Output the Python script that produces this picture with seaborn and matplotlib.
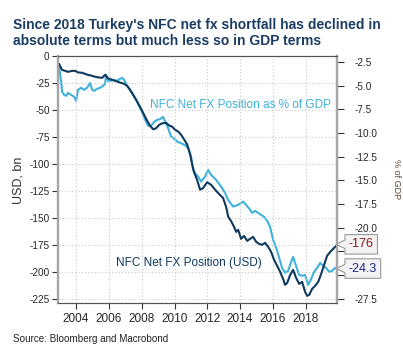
import matplotlib
matplotlib.use("Agg")
import matplotlib.pyplot as plt
from matplotlib.path import Path
import seaborn as sns
import pandas as pd

# NFC net FX position, USD bn (left axis)
usd_years = [2002.96, 2003.15, 2003.33, 2003.51, 2003.76, 2003.94, 2004.12, 2004.37, 2004.55,
             2004.73, 2004.98, 2005.16, 2005.34, 2005.59, 2005.77, 2005.95, 2006.20, 2006.38,
             2006.56, 2006.74, 2006.93, 2007.11, 2007.29, 2007.48, 2007.66, 2007.90, 2008.09,
             2008.27, 2008.51, 2008.70, 2008.88, 2009.06, 2009.24, 2009.49, 2009.67, 2009.85,
             2010.04, 2010.22, 2010.40, 2010.59, 2010.77, 2010.95, 2011.07, 2011.20, 2011.38,
             2011.56, 2011.74, 2011.99, 2012.23, 2012.48, 2012.72, 2012.96, 2013.15, 2013.27,
             2013.45, 2013.63, 2013.76, 2013.88, 2014.06, 2014.24, 2014.43, 2014.61, 2014.79,
             2014.98, 2015.16, 2015.34, 2015.52, 2015.71, 2015.89, 2016.07, 2016.26, 2016.44,
             2016.62, 2016.74, 2016.87, 2017.05, 2017.23, 2017.41, 2017.60, 2017.78, 2017.96,
             2018.09, 2018.21, 2018.39, 2018.57, 2018.76, 2018.94, 2019.12, 2019.30, 2019.49,
             2019.67, 2019.85]
usd_bn = [-7.4, -13.0, -13.9, -14.8, -13.9, -13.9, -15.3, -15.7, -16.7,
          -17.6, -18.5, -19.4, -19.9, -20.4, -17.5, -20.8, -22.2, -23.1,
          -24.1, -25.0, -25.9, -27.8, -31.5, -36.1, -40.7, -47.2, -52.8,
          -58.3, -64.8, -68.0, -67.0, -64.0, -62.5, -62.0, -64.5, -65.5,
          -68.5, -70.0, -73.0, -77.5, -82.0, -91.0, -100.0, -108.0, -115.0,
          -124.0, -122.5, -117.0, -119.4, -124.0, -128.0, -131.5, -140.0, -148.8,
          -153.0, -158.3, -163.0, -161.1, -169.4, -166.7, -171.3, -169.4, -167.6,
          -172.2, -174.1, -175.0, -173.1, -176.8, -181.5, -188.9, -194.4, -200.0,
          -206.5, -212.0, -210.2, -202.8, -198.1, -205.5, -211.1, -209.3, -218.5,
          -222.2, -221.3, -215.7, -213.0, -209.3, -201.9, -193.5, -185.2, -181.5,
          -178.7, -176.0]

# NFC net FX position, % of GDP (right axis)
gdp_years = [2002.96, 2003.09, 2003.15, 2003.27, 2003.39, 2003.51, 2003.70, 2003.88, 2004.00,
             2004.12, 2004.30, 2004.49, 2004.67, 2004.85, 2004.98, 2005.10, 2005.28, 2005.46,
             2005.65, 2005.77, 2005.83, 2005.95, 2006.13, 2006.32, 2006.50, 2006.68, 2006.80,
             2006.93, 2007.11, 2007.29, 2007.48, 2007.66, 2007.84, 2008.02, 2008.21, 2008.39,
             2008.57, 2008.76, 2008.94, 2009.12, 2009.30, 2009.43, 2009.61, 2009.79, 2009.98,
             2010.16, 2010.40, 2010.65, 2010.83, 2011.01, 2011.13, 2011.32, 2011.44, 2011.62,
             2011.87, 2012.05, 2012.23, 2012.54, 2012.84, 2013.09, 2013.27, 2013.57, 2013.88,
             2014.18, 2014.37, 2014.61, 2014.73,
             2014.91, 2015.10, 2015.28, 2015.46, 2015.65, 2015.83, 2016.01, 2016.20, 2016.38,
             2016.56, 2016.74, 2016.93, 2017.11, 2017.23, 2017.41, 2017.60, 2017.78, 2017.96,
             2018.15, 2018.33, 2018.51, 2018.70, 2018.88, 2019.06, 2019.24, 2019.43, 2019.61,
             2019.79, 2019.85]
gdp_pct = [-2.92, -4.61, -5.66, -5.98, -6.09, -5.77, -5.98, -6.19, -6.61,
           -5.45, -5.24, -5.45, -5.24, -4.72, -5.45, -5.56, -5.35, -5.24,
           -5.03, -4.82, -3.87, -4.50, -4.50, -4.40, -4.50, -4.29, -4.19,
           -4.40, -5.03, -5.45, -5.98, -6.51, -7.14, -7.77, -8.62, -9.25,
           -9.25, -8.83, -8.62, -8.55, -8.30, -8.80, -9.49, -10.38, -10.60,
           -10.91, -11.08, -11.30, -11.60, -12.50, -13.89, -14.40, -14.60, -15.13,
           -14.60, -13.89, -14.42, -14.95, -15.65, -16.35, -17.06, -17.76, -17.59,
           -17.24, -17.59, -18.11, -18.43,
           -18.22, -18.43, -18.64, -18.85, -19.27, -19.91, -21.28, -22.12, -23.18,
           -24.23, -24.76, -24.54, -23.60, -23.07, -24.02, -24.97, -25.07, -24.97,
           -26.02, -25.39, -24.65, -24.23, -23.70, -24.02, -24.23, -24.65, -24.54,
           -24.23, -24.30]

year_ticks = [2004, 2006, 2008, 2010, 2012, 2014, 2016, 2018]
usd_ticks = [0, -25, -50, -75, -100, -125, -150, -175, -200, -225]
gdp_ticks = [-2.5, -5.0, -7.5, -10.0, -12.5, -15.0, -17.5, -20.0, -22.5, -25.0, -27.5]
# these two labels sit behind the end-value boxes in the original
hidden_gdp_labels = [-22.5, -25.0]

dark = "#0f3a5f"
light = "#3fb1dc"
title_col = "#1b3d64"


def callout(x0, y0, width, height, mutation_size):
    # rectangle with a small pointer on its left side
    pad = 0.3 * mutation_size
    x0, y0 = x0 - pad, y0 - pad
    width, height = width + 2 * pad, height + 2 * pad
    x1, y1 = x0 + width, y0 + height
    ym = y0 + height / 2
    verts = [(x0, y0), (x1, y0), (x1, y1), (x0, y1),
             (x0, ym + 0.22 * height), (x0 - 0.45 * height, ym),
             (x0, ym - 0.22 * height), (x0, y0)]
    return Path(verts, closed=True)


sns.set_style("white")
plt.rcParams['font.family'] = ['Liberation Sans', 'DejaVu Sans']

usd_df = pd.DataFrame({"year": usd_years, "value": usd_bn})
gdp_df = pd.DataFrame({"year": gdp_years, "value": gdp_pct})

fig = plt.figure(figsize=(4.03, 3.58), dpi=100)
ax = fig.add_axes([0.144, 0.154, 0.692, 0.690])
ax2 = ax.twinx()

sns.lineplot(data=gdp_df, x="year", y="value", ax=ax2, color=light, linewidth=1.5)
sns.lineplot(data=usd_df, x="year", y="value", ax=ax, color=dark, linewidth=1.5)
ax.set_zorder(ax2.get_zorder() + 1)
ax.patch.set_visible(False)

ax.set_xlim(2002.9, 2019.9)
ax.set_ylim(-228.7, 0)
ax2.set_ylim(-27.92, -1.87)

ax.set_xticks(year_ticks)
ax.set_xticklabels([str(y) for y in year_ticks], fontsize=8.5)
ax.set_yticks(usd_ticks)
ax.set_yticklabels([str(v) for v in usd_ticks], fontsize=7.2)
ax2.set_yticks(gdp_ticks)
ax2.set_yticklabels(["" if v in hidden_gdp_labels else f"{v:.1f}" for v in gdp_ticks],
                    fontsize=7.2)

ax.grid(True, color="#c8c8c8", linestyle=(0, (1, 2)), linewidth=0.8)
ax2.grid(False)
ax.tick_params(axis="x", length=4, width=0.8, color="#333333", pad=3, bottom=True)
ax.tick_params(axis="y", length=4, width=0.8, color="#333333", pad=2, left=True)
ax2.tick_params(axis="y", length=5, width=0.8, color="#333333", pad=8, right=True)

ax.set_xlabel("")
ax.set_ylabel("")
ax2.set_xlabel("")
ax2.set_ylabel("")

for a in (ax, ax2):
    a.spines["left"].set_color("#a6a6a6")
    a.spines["left"].set_linewidth(1.6)
    a.spines["right"].set_color("#a6a6a6")
    a.spines["right"].set_linewidth(1.6)
    a.spines["top"].set_color("#555555")
    a.spines["top"].set_linewidth(0.8)
    a.spines["bottom"].set_color("#555555")
    a.spines["bottom"].set_linewidth(0.8)

fig.text(0.047, 0.497, "USD, bn", rotation=90, fontsize=9, color="#333333",
         ha="center", va="center")
fig.text(0.985, 0.5, "% of GDP", rotation=-90, fontsize=6.5, color="#5b4636",
         ha="center", va="center")

fig.text(0.032, 0.949, "Since 2018 Turkey's NFC net fx shortfall has declined in\n"
         "absolute terms but much less so in GDP terms",
         fontsize=10, fontweight="bold", color=title_col, ha="left", va="top",
         linespacing=1.15)
fig.text(0.032, 0.053, "Source: Bloomberg and Macrobond", fontsize=7.1, color="#222222",
         ha="left", va="center")

ax.text(2008.5, -45.4, "NFC Net FX Position as % of GDP", fontsize=8.5, color=light,
        ha="left", va="center")
ax.text(2006.44, -191.7, "NFC Net FX Position (USD)", fontsize=8.5, color=dark,
        ha="left", va="center")

box = dict(boxstyle=callout, facecolor="#f2f2f2", edgecolor="#9a9a9a", linewidth=0.8)
ax.annotate(f"{usd_bn[-1]:.0f}", xy=(1.0, usd_bn[-1] + 1.5), xycoords=("axes fraction", "data"),
            xytext=(8.5, 0), textcoords="offset points", fontsize=9, color="#8b1a1a",
            ha="left", va="center", bbox=box, annotation_clip=False)
ax2.annotate(f"{gdp_pct[-1]:.1f}", xy=(1.0, gdp_pct[-1]), xycoords=("axes fraction", "data"),
             xytext=(8.5, 0), textcoords="offset points", fontsize=9, color="#1a2a8c",
             ha="left", va="center", bbox=box, annotation_clip=False)

fig.savefig("out.png", dpi=100)
